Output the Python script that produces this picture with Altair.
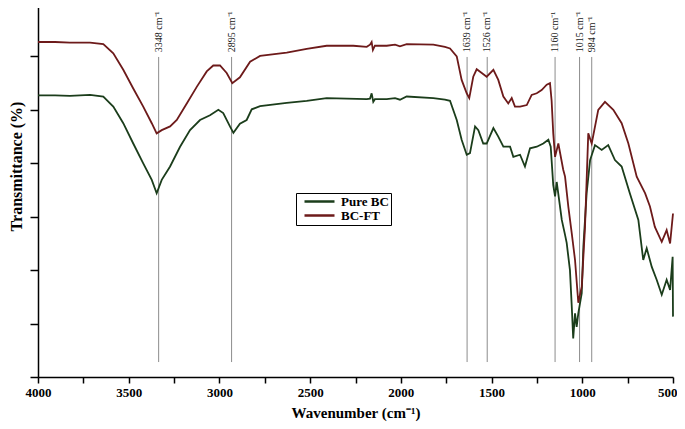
import altair as alt
import pandas as pd

# BC-FT (upper, maroon) spectrum: wavenumber (cm-1) and transmittance (%)
wn_ft = [4000, 3906, 3824, 3713, 3640, 3585, 3530, 3475, 3420, 3373, 3346, 3318, 3272, 3235,
         3180, 3125, 3070, 3034, 2997, 2960, 2929, 2887, 2831, 2776, 2629, 2519, 2409, 2262,
         2188, 2170, 2161, 2154, 2143, 2078, 2032, 2005, 1968, 1821, 1757, 1729, 1692, 1665,
         1637, 1623, 1601, 1582, 1554, 1527, 1490, 1463, 1435, 1408, 1389, 1371, 1343, 1306,
         1279, 1251, 1224, 1196, 1178, 1169, 1160, 1150, 1132, 1105, 1095, 1077, 1058, 1040,
         1022, 1003, 985, 967, 948, 912, 875, 829, 783, 746, 700, 654, 627, 600, 562, 535,
         516, 500]
t_ft = [62.7, 62.7, 62.6, 62.6, 62.3, 60.6, 57.5, 54.0, 50.6, 47.5, 45.6, 46.2, 46.9, 48.1,
        51.2, 54.3, 57.2, 58.3, 58.3, 56.9, 55.0, 56.1, 59.0, 60.1, 60.7, 61.4, 62.0, 62.0,
        61.8, 62.2, 62.7, 61.2, 62.0, 62.0, 62.2, 61.9, 62.3, 62.2, 61.8, 61.5, 60.0, 55.6,
        53.1, 52.2, 56.2, 57.6, 56.9, 56.2, 57.5, 55.6, 52.5, 51.2, 52.2, 50.6, 50.6, 50.9,
        52.8, 53.1, 53.7, 54.7, 55.0, 51.7, 45.6, 41.2, 43.7, 38.8, 37.5, 31.9, 26.9, 21.9,
        13.9, 16.9, 28.1, 45.6, 43.7, 50.0, 51.5, 50.0, 47.5, 43.7, 37.5, 34.4, 31.9, 28.1,
        25.3, 27.5, 25.0, 30.6]

# Pure BC (lower, dark green) spectrum
wn_bc = [4000, 3906, 3824, 3713, 3640, 3585, 3530, 3475, 3420, 3373, 3346, 3318, 3272, 3217,
         3162, 3107, 3052, 3006, 2979, 2942, 2923, 2887, 2850, 2822, 2776, 2629, 2519, 2409,
         2188, 2170, 2161, 2152, 2143, 2078, 2032, 2005, 1968, 1821, 1757, 1729, 1692, 1665,
         1637, 1619, 1591, 1573, 1546, 1527, 1490, 1463, 1435, 1398, 1380, 1343, 1316, 1288,
         1251, 1215, 1187, 1174, 1160, 1150, 1141, 1113, 1095, 1086, 1068, 1058, 1050, 1040,
         1031, 1022, 1003, 994, 976, 957, 930, 893, 857, 820, 783, 738, 691, 664, 645, 617,
         590, 562, 535, 516, 502, 500]
t_bc = [52.7, 52.7, 52.6, 52.8, 52.5, 50.6, 47.5, 43.7, 40.0, 36.9, 34.4, 36.9, 39.4, 43.1,
        46.2, 48.1, 49.0, 50.0, 49.4, 46.9, 45.7, 47.4, 48.1, 50.1, 50.7, 51.3, 51.7, 52.2,
        52.0, 52.1, 53.1, 51.5, 52.0, 52.0, 52.2, 51.9, 52.5, 52.2, 51.9, 51.7, 48.1, 44.4,
        41.6, 41.9, 46.9, 46.2, 43.7, 43.7, 46.6, 45.0, 43.1, 43.1, 41.2, 41.6, 39.4, 42.8,
        43.1, 43.7, 44.4, 43.1, 35.9, 33.8, 36.5, 29.4, 26.6, 25.1, 20.0, 13.2, 7.2, 11.9,
        9.4, 11.9, 15.7, 24.4, 34.4, 40.6, 43.4, 42.5, 43.4, 40.6, 39.4, 34.4, 29.4, 21.9,
        24.1, 20.6, 18.2, 15.4, 18.2, 16.3, 22.5, 11.3]

series_names = ["Pure BC", "BC-FT"]
series_colors = ["#1b3d1b", "#6d1a1a"]

peak_pos = [3335, 2933, 1635, 1524, 1150, 1015, 948]
peak_labels = ["3348 cm⁻¹", "2895 cm⁻¹", "1639 cm⁻¹", "1526 cm⁻¹",
               "1160 cm⁻¹", "1015 cm⁻¹", "984 cm⁻¹"]

x_ticks = list(range(500, 4001, 250))
y_ticks = list(range(0, 71, 5))

spec = pd.concat([
    pd.DataFrame({"wn": wn_bc, "t": t_bc, "series": "Pure BC"}),
    pd.DataFrame({"wn": wn_ft, "t": t_ft, "series": "BC-FT"}),
])
peaks = pd.DataFrame({"pos": peak_pos, "label": peak_labels})

SERIF = "Liberation Serif"

x_scale = alt.Scale(domain=[500, 4000], reverse=True, nice=False, zero=False)
y_scale = alt.Scale(domain=[0, 70], nice=False, zero=False)

x_enc = alt.X("wn:Q", scale=x_scale,
              axis=alt.Axis(values=x_ticks, format="d",
                            labelExpr="datum.value % 500 == 0 ? datum.label : ''",
                            labelAlign=alt.expr("datum.value == 500 ? 'right' : 'center'"),
                            labelOffset=alt.expr("datum.value == 500 ? 4 : 0"),
                            title="Wavenumber (cm⁻¹)", grid=False,
                            tickSize=6, labelPadding=3, titlePadding=6,
                            labelFontSize=13, titleFontSize=15))

lines = alt.Chart(spec).mark_line(strokeWidth=1.8).encode(
    x=x_enc,
    y=alt.Y("t:Q", scale=y_scale,
            axis=alt.Axis(values=y_ticks, labels=False, grid=False,
                          title="Transmittance (%)", tickSize=8,
                          titleFontSize=16, titleX=-14, titleY=163)),
    color=alt.Color("series:N",
                    scale=alt.Scale(domain=series_names, range=series_colors),
                    legend=alt.Legend(orient="none", legendX=258, legendY=190,
                                      title=None, symbolType="M-3,0H3",
                                      symbolSize=100, symbolStrokeWidth=2.5,
                                      symbolOffset=15, labelOffset=15,
                                      labelFont=SERIF, labelFontWeight="bold",
                                      labelFontSize=13, labelColor="black",
                                      strokeColor="black", fillColor="white",
                                      padding=2, rowPadding=0)),
    order=alt.Order("wn:Q", sort="descending"),
)

rules = alt.Chart(peaks).mark_rule(color="#8c8c8c", strokeWidth=1).encode(
    x=alt.X("pos:Q", scale=x_scale),
    y=alt.datum(59.9, scale=y_scale),
    y2=alt.datum(2.8),
)

labels = alt.Chart(peaks).mark_text(angle=270, align="left", baseline="middle",
                                    font=SERIF, fontSize=10, color="#222222").encode(
    x=alt.X("pos:Q", scale=x_scale),
    y=alt.datum(60.8, scale=y_scale),
    text="label:N",
)

chart = alt.layer(rules, lines, labels).properties(
    width=635, height=374,
    padding={"left": 30, "top": -5, "right": 4, "bottom": 49},
    autosize=alt.AutoSizeParams(type="none"),
).configure_view(stroke=None).configure_axis(
    domainColor="black", domainWidth=1.5, tickColor="black", tickWidth=1.5,
    labelFont=SERIF, labelFontWeight="bold", labelColor="black",
    titleFont=SERIF, titleFontWeight="bold", titleColor="black",
)

chart.save("out.html", embed_options={"renderer": "svg", "actions": False})
